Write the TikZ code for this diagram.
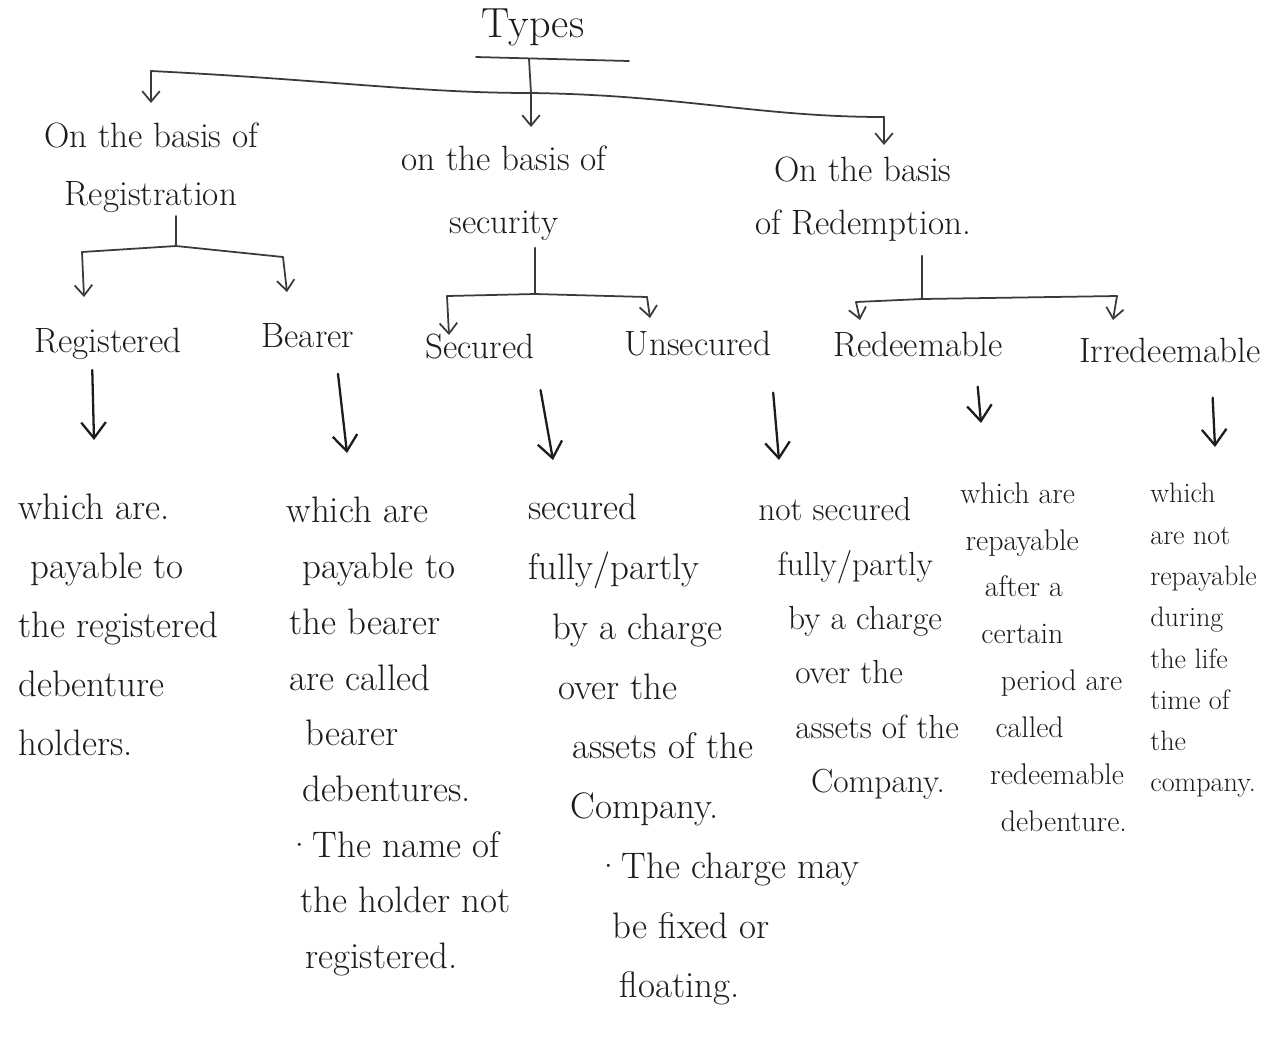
\documentclass[tikz,border=0pt]{standalone}
\usetikzlibrary{arrows.meta}
\definecolor{inkc}{HTML}{1C1C1C}
\definecolor{linec}{HTML}{3A3A3A}
\newcommand\myind[1]{\hspace*{#1pt}}
\begin{document}
\begin{tikzpicture}[x=0.02cm,y=-0.02cm,
  stroke/.style={draw=linec,line width=1pt,line cap=round,line join=round},
  arr/.style={draw=inkc,line width=1.3pt,line cap=round,
    -{Straight Barb[length=9pt,width=14pt,line width=1.3pt]}},
  treearr/.style={draw=linec,line width=1pt,line cap=round,
    -{Straight Barb[length=6pt,width=10pt,line width=1pt]}},
  lbl/.style={text=inkc,inner sep=0pt},
  basis/.style={lbl,align=center,anchor=north},
  kind/.style={lbl,anchor=base,font=\fontsize{20}{24}\selectfont},
  expl/.style={lbl,align=left,anchor=north west},
]
\useasboundingbox (0,0) rectangle (1278,1036);
\fill[white] (0,0) rectangle (1278,1036);

% title and its underline
\node[lbl,anchor=base,font=\fontsize{24}{28}\selectfont] (types) at (533,37) {Types};
\coordinate (ul) at (476,57);
\coordinate (ur) at (629,61);
\coordinate (uj) at (529,59);
\draw[stroke] (ul) -- (ur);

% main branch line
\coordinate (ml) at (151,71);
\coordinate (mj) at (531,93);
\coordinate (mr) at (884,117);
\draw[stroke] (uj) -- (mj);
\draw[stroke] (ml) .. controls (330,80) and (420,93) .. (mj)
              .. controls (680,95) and (760,117) .. (mr);

% first level: the three bases
\node[basis,font=\fontsize{20}{33}\selectfont] (bReg) at (151,122) {On the basis of\\Registration};
\node[basis,font=\fontsize{20}{36}\selectfont] (bSec) at (504,145) {on the basis of\\security};
\node[basis,font=\fontsize{20}{30}\selectfont] (bRed) at (863,157) {On the basis\\of Redemption.};

\coordinate (ma1) at (151,103);
\coordinate (ma2) at (531,127);
\coordinate (ma3) at (884,145);
\draw[treearr] (ml) -- (ma1);
\draw[treearr] (mj) -- (ma2);
\draw[treearr] (mr) -- (ma3);

% second level: kinds of debentures
\node[kind] (kReg)   at (108,352)  {Registered};
\node[kind] (kBear)  at (308,347)  {Bearer};
\node[kind] (kSec)   at (480,358)  {Secured};
\node[kind] (kUns)   at (698,355)  {Unsecured};
\node[kind] (kRed)   at (918,356)  {Redeemable};
\node[kind] (kIrr)   at (1170,362) {Irredeemable};

% registration split
\coordinate (rj) at (176,246);
\coordinate (rl) at (82,252);
\coordinate (rr) at (283,257);
\coordinate (ra1) at (84,297);
\coordinate (ra2) at (287,292);
\draw[stroke,shorten <=2pt] (bReg.south -| rj) -- (rj);
\draw[stroke] (rl) -- (rj) -- (rr);
\draw[treearr] (rl) -- (ra1);
\draw[treearr] (rr) -- (ra2);

% security split
\coordinate (sj) at (535,294);
\coordinate (sl) at (447,296);
\coordinate (sr) at (647,297);
\coordinate (sa1) at (449,335);
\coordinate (sa2) at (650,318);
\draw[stroke,shorten <=4pt] (bSec.south -| sj) -- (sj);
\draw[stroke] (sl) -- (sj) -- (sr);
\draw[treearr] (sl) -- (sa1);
\draw[treearr] (sr) -- (sa2);

% redemption split
\coordinate (dj) at (922,299);
\coordinate (dl) at (856,302);
\coordinate (dr) at (1117,296);
\coordinate (da1) at (860,320);
\coordinate (da2) at (1113,320);
\draw[stroke,shorten <=8pt] (bRed.south -| dj) -- (dj);
\draw[stroke] (dl) -- (dj) -- (dr);
\draw[treearr] (dl) -- (da1);
\draw[treearr] (dr) -- (da2);

% third level: explanations
\node[expl,font=\fontsize{21}{33.5}\selectfont] (eReg) at (18,494)
  {which are.\\\myind{7}payable to\\the registered\\debenture\\holders.};
\node[expl,font=\fontsize{21}{31.7}\selectfont] (eBear) at (286,497)
  {which are\\\myind{9}payable to\\\myind{2}the bearer\\\myind{2}are called\\\myind{11}bearer\\\myind{9}debentures.\\·The name of\\\myind{8}the holder not\\\myind{11}registered.};
\node[expl,font=\fontsize{21}{34}\selectfont] (eSec) at (528,494)
  {secured\\fully/partly\\\myind{14}by a charge\\\myind{17}over the\\\myind{25}assets of the\\\myind{24}Company.\\\myind{38}·The charge may\\\myind{48}be fixed or\\\myind{52}floating.};
\node[expl,font=\fontsize{19}{31}\selectfont] (eUns) at (758,497)
  {not secured\\\myind{11}fully/partly\\\myind{17}by a charge\\\myind{21}over the\\\myind{21}assets of the\\\myind{30}Company.};
\node[expl,font=\fontsize{17}{26.7}\selectfont] (eRed) at (960,482)
  {which are\\\myind{3}repayable\\\myind{14}after a\\\myind{12}certain\\\myind{23}period are\\\myind{20}called\\\myind{17}redeemable\\\myind{23}debenture.};
\node[expl,font=\fontsize{16}{23.5}\selectfont] (eIrr) at (1150,483)
  {which\\are not\\repayable\\during\\the life\\time of\\the\\company.};

% arrows from the kinds to their explanations
\coordinate (x1) at (92,0);
\coordinate (x2) at (335,0);
\coordinate (x3) at (535,0);
\coordinate (x4) at (770,0);
\coordinate (x5) at (975,0);
\coordinate (x6) at (1211,0);
\coordinate (t1) at (94,440);
\coordinate (t2) at (347,453);
\coordinate (t3) at (553,460);
\coordinate (t4) at (779,460);
\coordinate (t5) at (981,423);
\coordinate (t6) at (1215,447);
\draw[arr,shorten <=6pt]  (kReg.south -| x1)  -- (t1);
\draw[arr,shorten <=15pt] (kBear.south -| x2) -- (t2);
\draw[arr,shorten <=18pt] (kSec.south -| x3)  -- (t3);
\draw[arr,shorten <=21pt] (kUns.south -| x4)  -- (t4);
\draw[arr,shorten <=17pt] (kRed.south -| x5)  -- (t5);
\draw[arr,shorten <=20pt] (kIrr.south -| x6)  -- (t6);
\end{tikzpicture}
\end{document}
